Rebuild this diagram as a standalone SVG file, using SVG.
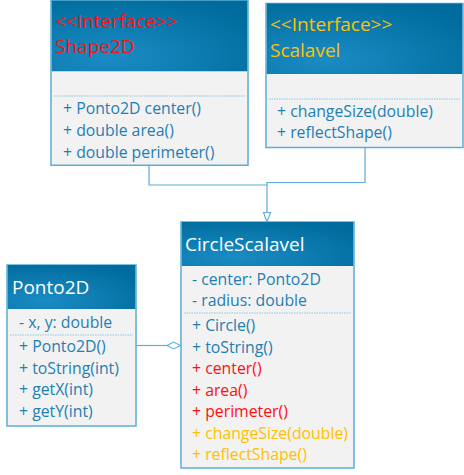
<svg xmlns="http://www.w3.org/2000/svg" width="464" height="475" viewBox="0 0 464 475">
<defs>
<radialGradient id="hdr" cx="0.3" cy="0.8" r="0.9">
<stop offset="0" stop-color="#1a8cc4"/>
<stop offset="1" stop-color="#006b9c"/>
</radialGradient>
<style>
.body{fill:#f2f2f2;stroke:#5aaed6;stroke-width:1.5}
.head{fill:url(#hdr)}
.sep{stroke:#8cc6e2;stroke-width:1;stroke-dasharray:1.5 1}
.t{font-family:"Open Sans","DejaVu Sans",sans-serif;font-size:15.8px;fill:#1e7fb2}
.h{font-family:"Open Sans","DejaVu Sans",sans-serif;font-size:19px;fill:#ffffff}
.red{fill:#ff1010}
.org{fill:#ffc000}
.conn{fill:none;stroke:#5aaed6;stroke-width:1.2}
</style>
</defs>
<g id="connectors">
<polyline class="conn" points="149,165 149,185 267,185"/>
<polyline class="conn" points="365,147 365,182.5 267,182.5 267,221"/>
<path d="M267,222 L263.5,212.5 L270.5,212.5 Z" fill="#fff" stroke="#5aaed6" stroke-width="1.1"/>
<line class="conn" x1="136" y1="345.5" x2="167" y2="345.5"/>
<path d="M167,345.5 L173.5,342 L180.5,345.5 L173.5,349 Z" fill="#fff" stroke="#5aaed6" stroke-width="1.1"/>
</g>
<g id="shape2d">
<rect class="body" x="51" y="0.75" width="197" height="164.5"/>
<rect class="head" x="51.75" y="0.75" width="195.5" height="70.5"/>
<line class="sep" x1="54" y1="96" x2="245" y2="96"/>
<text class="h red" x="55" y="28">&lt;&lt;Interface&gt;&gt;</text>
<text class="h red" x="55" y="53">Shape2D</text>
<text class="t" x="63" y="114">+ Ponto2D center()</text>
<text class="t" x="63" y="136">+ double area()</text>
<text class="t" x="63" y="158">+ double perimeter()</text>
</g>
<g id="scalavel">
<rect class="body" x="266" y="3.5" width="197" height="144"/>
<rect class="head" x="266.75" y="3.5" width="195.5" height="70.5"/>
<line class="sep" x1="269" y1="99" x2="460" y2="99"/>
<text class="h org" x="270" y="31">&lt;&lt;Interface&gt;&gt;</text>
<text class="h org" x="270" y="57">Scalavel</text>
<text class="t" x="277" y="117">+ changeSize(double)</text>
<text class="t" x="277" y="138">+ reflectShape()</text>
</g>
<g id="circlescalavel">
<rect class="body" x="181" y="222" width="173" height="246"/>
<rect class="head" x="181.75" y="222" width="171.5" height="44"/>
<line class="sep" x1="184" y1="313" x2="351" y2="313"/>
<text class="h" x="185" y="251">CircleScalavel</text>
<text class="t" x="192" y="285">- center: Ponto2D</text>
<text class="t" x="192" y="306">- radius: double</text>
<text class="t" x="192" y="331">+ Circle()</text>
<text class="t" x="192" y="353">+ toString()</text>
<text class="t red" x="192" y="374">+ center()</text>
<text class="t red" x="192" y="396">+ area()</text>
<text class="t red" x="192" y="417">+ perimeter()</text>
<text class="t org" x="192" y="439">+ changeSize(double)</text>
<text class="t org" x="192" y="460">+ reflectShape()</text>
</g>
<g id="ponto2d">
<rect class="body" x="7" y="265" width="129" height="161"/>
<rect class="head" x="7.75" y="265" width="127.5" height="44"/>
<line class="sep" x1="10" y1="335" x2="133" y2="335"/>
<text class="h" x="12" y="294">Ponto2D</text>
<text class="t" x="19" y="328">- x, y: double</text>
<text class="t" x="19" y="352">+ Ponto2D()</text>
<text class="t" x="19" y="374">+ toString(int)</text>
<text class="t" x="19" y="395">+ getX(int)</text>
<text class="t" x="19" y="417">+ getY(int)</text>
</g>
</svg>
